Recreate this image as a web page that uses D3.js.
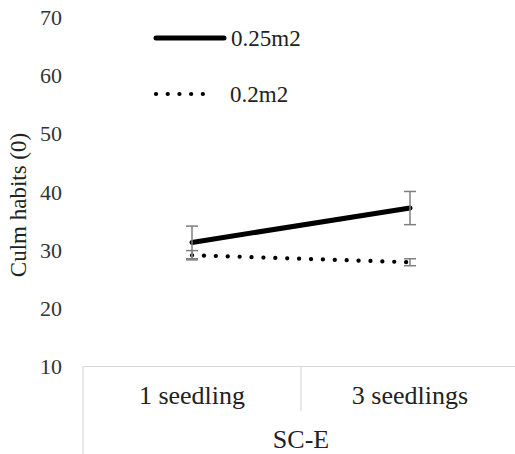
<!DOCTYPE html>
<html>
<head>
<meta charset="utf-8">
<script src="https://cdn.jsdelivr.net/npm/d3@7"></script>
<style>
  html, body { margin: 0; padding: 0; background: #fff; }
  svg { display: block; }
  svg text { font-family: "Liberation Serif", "Times New Roman", serif !important; }
</style>
</head>
<body>
<svg id="chart" width="515" height="454"></svg>
<script>
// Culm habits by planting density and seedling number
const categories = ["1 seedling", "3 seedlings"];
const groupLabel = "SC-E";
const seriesNames = ["0.25m2", "0.2m2"];
const values025 = [31.3, 37.2];
const errors025 = [2.8, 2.85];
const values02 = [29.1, 27.9];
const errors02 = [0.8, 0.6];
const yTicks = [10, 20, 30, 40, 50, 60, 70];
const yTitle = "Culm habits (0)";

const svg = d3.select("#chart");

const y = d3.scaleLinear().domain([10, 70]).range([366.5, 17]);
const x = d3.scaleBand().domain(categories).range([83, 519]).padding(0);
const cx = d => x(d) + x.bandwidth() / 2;

// y tick labels (no axis line)
const yAxis = d3.axisLeft(y).tickValues(yTicks).tickSize(0).tickPadding(0);
const yg = svg.append("g").attr("transform", "translate(62,0)").call(yAxis);
yg.select(".domain").remove();
yg.selectAll("text")
  .style("font-size", "22px")
  .attr("fill", "#333")
  .attr("dy", "0.34em");

// y axis title
svg.append("text")
  .attr("transform", "translate(26,205) rotate(-90)")
  .attr("text-anchor", "middle")
  .style("font-size", "23px")
  .attr("fill", "#222")
  .text(yTitle);

// category axis box
const axisG = svg.append("g").attr("stroke", "#d9d9d9").attr("stroke-width", 1.2);
axisG.append("line").attr("x1", 83).attr("x2", 519).attr("y1", y(10)).attr("y2", y(10));
axisG.append("line").attr("x1", 83).attr("x2", 83).attr("y1", y(10)).attr("y2", 454);
categories.slice(1).forEach(c => {
  axisG.append("line").attr("x1", x(c)).attr("x2", x(c)).attr("y1", y(10)).attr("y2", 411);
});
axisG.append("line").attr("x1", 519).attr("x2", 519).attr("y1", y(10)).attr("y2", 454);

svg.selectAll("text.cat").data(categories).enter().append("text")
  .attr("class", "cat")
  .attr("x", d => cx(d))
  .attr("y", 404)
  .attr("text-anchor", "middle")
  .style("font-size", "26px")
  .attr("fill", "#222")
  .text(d => d);

svg.append("text")
  .attr("x", x(categories[1]))
  .attr("y", 448)
  .attr("text-anchor", "middle")
  .style("font-size", "26px")
  .attr("fill", "#222")
  .text(groupLabel);

// series lines
const line = d3.line().x(d => cx(d.c)).y(d => y(d.v));
const s025 = categories.map((c, i) => ({ c, v: values025[i], e: errors025[i] }));
const s02 = categories.map((c, i) => ({ c, v: values02[i], e: errors02[i] }));

svg.append("path").datum(s025)
  .attr("d", line)
  .attr("fill", "none")
  .attr("stroke", "#000")
  .attr("stroke-width", 5)
  .attr("stroke-linecap", "round");

svg.append("path").datum(s02)
  .attr("d", line)
  .attr("fill", "none")
  .attr("stroke", "#000")
  .attr("stroke-width", 4.2)
  .attr("stroke-linecap", "round")
  .attr("stroke-dasharray", "0.1 11.8");

// error bars
function errorBars(data) {
  const g = svg.append("g").attr("stroke", "#7f7f7f").attr("stroke-width", 1.5).attr("fill", "none");
  data.forEach(d => {
    const px = cx(d.c);
    g.append("line").attr("x1", px).attr("x2", px).attr("y1", y(d.v + d.e)).attr("y2", y(d.v - d.e));
    g.append("line").attr("x1", px - 6).attr("x2", px + 6).attr("y1", y(d.v + d.e)).attr("y2", y(d.v + d.e));
    g.append("line").attr("x1", px - 6).attr("x2", px + 6).attr("y1", y(d.v - d.e)).attr("y2", y(d.v - d.e));
  });
}
errorBars(s025);
errorBars(s02);

// legend
const lg = svg.append("g");
lg.append("line").attr("x1", 156).attr("x2", 224).attr("y1", 38).attr("y2", 38)
  .attr("stroke", "#000").attr("stroke-width", 5).attr("stroke-linecap", "round");
lg.append("text").attr("x", 231).attr("y", 46).style("font-size", "23px").attr("fill", "#222").text(seriesNames[0]);
lg.append("line").attr("x1", 156).attr("x2", 214).attr("y1", 94).attr("y2", 94)
  .attr("stroke", "#000").attr("stroke-width", 4.2).attr("stroke-linecap", "round")
  .attr("stroke-dasharray", "0.1 11.6");
lg.append("text").attr("x", 230).attr("y", 102).style("font-size", "23px").attr("fill", "#222").text(seriesNames[1]);
</script>
</body>
</html>
